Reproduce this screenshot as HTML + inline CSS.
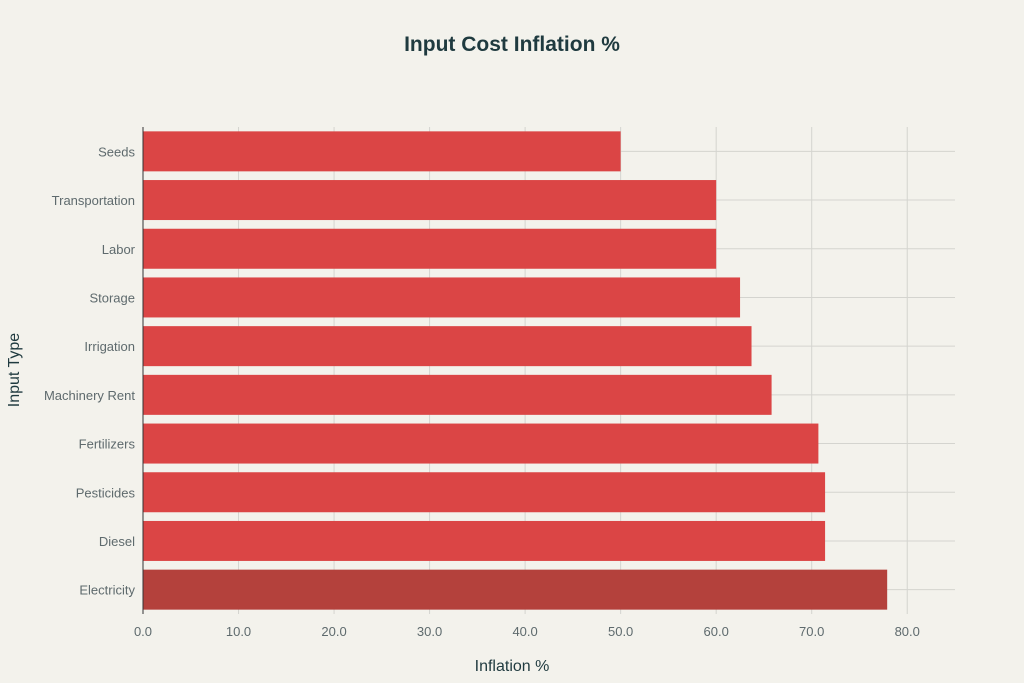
<!DOCTYPE html>
<html><head><meta charset="utf-8"><style>
body{margin:0;background:#f3f2ec;font-family:"Liberation Sans",sans-serif;}
svg{display:block}
</style></head><body>
<svg width="1024" height="683" id="chart">
<rect width="1024" height="683" fill="#f3f2ec"/>
<text x="512" y="51" text-anchor="middle" font-size="21" font-weight="bold" fill="#1f3a3f">Input Cost Inflation %</text>
<text x="512" y="671" text-anchor="middle" font-size="16" fill="#1f3a3f">Inflation %</text>
<text transform="translate(19,370) rotate(-90)" text-anchor="middle" font-size="16" fill="#1f3a3f">Input Type</text>
<g id="gridG"></g><g id="barsG"></g><g id="labelsG"></g>
</svg>
<script>
const categories=["Seeds","Transportation","Labor","Storage","Irrigation","Machinery Rent","Fertilizers","Pesticides","Diesel","Electricity"];
const values=[50,60,60,62.5,63.7,65.8,70.7,71.4,71.4,77.9];
const xTicks=[0,10,20,30,40,50,60,70,80];
const NS="http://www.w3.org/2000/svg";
const x0=143,x1=955,xmax=85,yTop=127,yBottom=614;
const xs=v=>x0+(x1-x0)*v/xmax;
const step=(yBottom-yTop)/categories.length;
const yc=i=>yTop+step*(i+0.5);
const gridG=document.getElementById('gridG'),barsG=document.getElementById('barsG'),labelsG=document.getElementById('labelsG');
function mk(t,a,p){const e=document.createElementNS(NS,t);for(const k in a)e.setAttribute(k,a[k]);p.appendChild(e);return e;}
xTicks.forEach(t=>{
 const l=mk('line',{x1:xs(t),x2:xs(t),y1:yTop,y2:yBottom,stroke:'#d4d4cf','stroke-width':1},gridG);
 
 
 const tx=mk('text',{x:xs(t),y:636,'text-anchor':'middle','font-size':13,fill:'#5e6a6d'},labelsG);
 tx.textContent=t.toFixed(1);
 
 
});
categories.forEach((c,i)=>{
 const g=mk('line',{x1:x0,x2:x1,y1:yc(i),y2:yc(i),stroke:'#d4d4cf','stroke-width':1},gridG);
 
 
 const r=mk('rect',{x:x0,y:yc(i)-20,width:xs(values[i])-x0,height:40,fill:i===categories.length-1?'#b4413c':'#db4545'},barsG);
 
 
 const t=mk('text',{x:135,y:yc(i)+5,'text-anchor':'end','font-size':13,fill:'#5e6a6d'},labelsG);
 t.textContent=c;
 
 
});
const ax=mk('line',{x1:x0,x2:x0,y1:yTop,y2:yBottom,stroke:'#333','stroke-width':1},labelsG);


</script>
</body></html>
